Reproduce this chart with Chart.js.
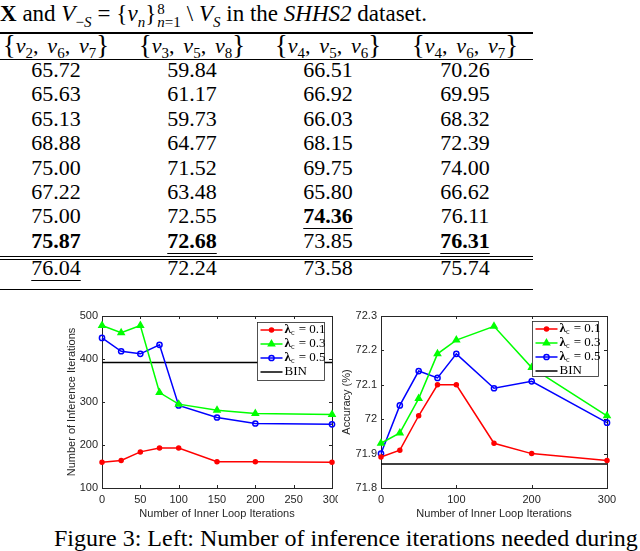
<!DOCTYPE html>
<html>
<head>
<meta charset="utf-8">
<script src="https://cdn.jsdelivr.net/npm/chart.js@4.4.1/dist/chart.umd.min.js"></script>
<style>
  body { margin: 0; width: 640px; height: 551px; overflow: hidden; background: #fff; position: relative;
         font-family: "Liberation Serif", "Times New Roman", serif; color: #000; }
  .t { position: absolute; font-size: 22px; line-height: 22px; white-space: nowrap; }
  .c { transform: translateX(-50%); }
  .u { text-decoration: underline; text-decoration-thickness: 1px; text-underline-offset: 5px; }
  .rule { position: absolute; left: 0; width: 533px; background: #000; }
  sub, sup { font-size: 15px; line-height: 0; }
  .stack { display: inline-block; vertical-align: -6px; font-size: 15px; line-height: 13px; text-align: left; margin-left: 1px; }
  .br { font-size: 27px; vertical-align: -1px; }
  .sp { margin: 0 6px; }
  canvas { position: absolute; }
</style>
</head>
<body>
<div class="t" style="left:0;top:2px;font-size:23px;line-height:23px"><b>X</b> and <i>V</i><sub>−<i>S</i></sub><span class="sp">=</span>{<i>v<sub>n</sub></i>}<span class="stack">8<br><i>n</i>=1</span><span class="sp">\</span><i>V<sub>S</sub></i> in the <i>SHHS2</i> dataset.</div>
<div id="table"></div>
<div class="t" style="left:54px;top:526px;font-size:24px;line-height:24px">Figure 3: Left: Number of inference iterations needed during</div>
<canvas id="left" width="298" height="225" style="left:40px;top:300px"></canvas>
<canvas id="right" width="300" height="225" style="left:340px;top:300px"></canvas>
<script>
// table values (columns of the table, top to bottom)
const colHeads = [[2, 6, 7], [3, 5, 8], [4, 5, 6], [4, 6, 7]];
const col1 = ['65.72', '65.63', '65.13', '68.88', '75.00', '67.22', '75.00', '75.87', '76.04'];
const col2 = ['59.84', '61.17', '59.73', '64.77', '71.52', '63.48', '72.55', '72.68', '72.24'];
const col3 = ['66.51', '66.92', '66.03', '68.15', '69.75', '65.80', '74.36', '73.85', '73.58'];
const col4 = ['70.26', '69.95', '68.32', '72.39', '74.00', '66.62', '76.11', '76.31', '75.74'];
// b = bold, u = underline
const col1Style = ['', '', '', '', '', '', '', 'b', 'u'];
const col2Style = ['', '', '', '', '', '', '', 'bu', ''];
const col3Style = ['', '', '', '', '', '', 'bu', '', ''];
const col4Style = ['', '', '', '', '', '', '', 'bu', ''];

// chart data
const innerIters = [0, 25, 50, 75, 100, 150, 200, 300];
const lambdaLabels = ['0.1', '0.3', '0.5'];
const infIters01 = [160, 164, 184, 193, 193, 161, 161, 160];
const infIters03 = [478, 461, 478, 322, 295, 281, 273, 271];
const infIters05 = [449, 418, 412, 433, 292, 264, 250, 248];
const infItersBin = 392;
const acc01 = [71.89, 71.91, 72.01, 72.10, 72.10, 71.93, 71.90, 71.88];
const acc03 = [71.93, 71.96, 72.06, 72.19, 72.23, 72.27, 72.15, 72.01];
const acc05 = [71.90, 72.04, 72.14, 72.12, 72.19, 72.09, 72.11, 71.99];
const accBin = 71.87;

// ---- table ----
const tbl = document.getElementById('table');
const colX = [56, 192, 328, 465];
const rowBase = [77, 101.4, 125.8, 150.2, 174.6, 199, 223.4, 248, 275];
const cols = [col1, col2, col3, col4];
const styles = [col1Style, col2Style, col3Style, col4Style];

function addText(html, x, base, cls) {
  const d = document.createElement('div');
  d.className = 't c ' + (cls || '');
  d.style.left = x + 'px';
  d.style.top = (base - 18) + 'px';
  d.innerHTML = html;
  tbl.appendChild(d);
}
function addRule(y, h) {
  const d = document.createElement('div');
  d.className = 'rule';
  d.style.top = y + 'px';
  d.style.height = h + 'px';
  tbl.appendChild(d);
}

colHeads.forEach((h, i) => {
  const inner = h.map(n => '<i>v</i><sub>' + n + '</sub>').join(',&thinsp;&thinsp;');
  addText('<span class="br">{</span>' + inner + '<span class="br">}</span>', colX[i], 52);
});
cols.forEach((col, i) => {
  col.forEach((v, r) => {
    const s = styles[i][r];
    let html = v;
    if (s.includes('b')) html = '<b>' + html + '</b>';
    addText(html, colX[i], rowBase[r], s.includes('u') ? 'u' : '');
  });
});
addRule(32.3, 1.4);
addRule(58.5, 1);
addRule(256, 1);
addRule(259, 1);
addRule(288.5, 1.4);

// ---- charts ----
const axisColor = '#262626';

const matlabAxes = {
  id: 'matlabAxes',
  beforeDatasetsDraw(chart) {
    const ctx = chart.ctx;
    const a = chart.chartArea;
    ctx.save();
    ctx.strokeStyle = axisColor;
    ctx.lineWidth = 1;
    ctx.strokeRect(Math.round(a.left) + 0.5, Math.round(a.top) + 0.5,
      Math.round(a.right - a.left), Math.round(a.bottom - a.top));
    const len = 3;
    ctx.beginPath();
    chart.scales.x.ticks.forEach(t => {
      const px = Math.round(chart.scales.x.getPixelForValue(t.value)) + 0.5;
      ctx.moveTo(px, a.bottom); ctx.lineTo(px, a.bottom - len);
      ctx.moveTo(px, a.top); ctx.lineTo(px, a.top + len);
    });
    chart.scales.y.ticks.forEach(t => {
      const py = Math.round(chart.scales.y.getPixelForValue(t.value)) + 0.5;
      ctx.moveTo(a.left, py); ctx.lineTo(a.left + len, py);
      ctx.moveTo(a.right, py); ctx.lineTo(a.right - len, py);
    });
    ctx.stroke();
    ctx.restore();
  }
};

const boxLegend = {
  id: 'boxLegend',
  afterDatasetsDraw(chart, args, opts) {
    const ctx = chart.ctx;
    const a = chart.chartArea;
    const w = opts.width, h = opts.height;
    const bx = Math.round(a.right - opts.right - w) + 0.5;
    const by = Math.round(a.top + opts.top) + 0.5;
    ctx.save();
    ctx.fillStyle = '#fff';
    ctx.fillRect(bx, by, w, h);
    ctx.strokeStyle = axisColor;
    ctx.lineWidth = 0.8;
    ctx.strokeRect(bx, by, w, h);
    chart.data.datasets.forEach((ds, i) => {
      const y = by + 7.5 + i * 14;
      ctx.strokeStyle = ds.borderColor;
      ctx.lineWidth = ds.borderWidth;
      ctx.beginPath();
      ctx.moveTo(bx + 3, y); ctx.lineTo(bx + 25, y);
      ctx.stroke();
      if (ds.pointRadius > 0) {
        ctx.fillStyle = ds.pointBackgroundColor;
        ctx.strokeStyle = ds.pointBorderColor;
        ctx.lineWidth = ds.pointBorderWidth;
        const p = { pointStyle: ds.pointStyle, radius: ds.pointRadius, rotation: 0, borderWidth: ds.pointBorderWidth };
        if (Chart.helpers && Chart.helpers.drawPoint) {
          Chart.helpers.drawPoint(ctx, p, bx + 14, y);
        } else {
          ctx.beginPath(); ctx.arc(bx + 14, y, ds.pointRadius, 0, Math.PI * 2); ctx.fill(); ctx.stroke();
        }
      }
      ctx.fillStyle = '#000';
      ctx.textBaseline = 'middle';
      let x = bx + 27;
      const serif = '"Liberation Serif", "Times New Roman", serif';
      if (ds.label.startsWith('λ_c')) {
        ctx.font = 'bold 13px ' + serif;
        ctx.fillText('λ', x, y); x += ctx.measureText('λ').width;
        ctx.font = '8px ' + serif;
        ctx.fillText('c', x, y + 3); x += ctx.measureText('c').width + 1;
        ctx.font = '13px ' + serif;
        ctx.fillText(ds.label.slice(3), x, y);
      } else {
        ctx.font = '13px ' + serif;
        ctx.fillText(ds.label, x, y);
      }
    });
    ctx.restore();
  }
};

function series(label, ys, color, style, radius, filled) {
  return {
    label: label,
    data: innerIters.map((x, i) => ({ x: x, y: ys[i] })),
    borderColor: color,
    borderWidth: 1.5,
    pointStyle: style,
    pointRadius: radius,
    pointBackgroundColor: filled ? color : 'rgba(0,0,0,0)',
    pointBorderColor: color,
    pointBorderWidth: 1.5,
    tension: 0,
    clip: false
  };
}
function binLine(v) {
  return {
    label: 'BIN',
    data: [{ x: 0, y: v }, { x: 300, y: v }],
    borderColor: '#000',
    borderWidth: 1.5,
    pointRadius: 0,
    pointBorderWidth: 0,
    clip: false
  };
}

function makeChart(id, cfg) {
  const tickFont = { family: '"Liberation Sans", Arial, sans-serif', size: 11 };
  const titleFont = { family: '"Liberation Sans", Arial, sans-serif', size: 11 };
  return new Chart(document.getElementById(id), {
    type: 'line',
    data: {
      datasets: [
        series('λ_c = ' + lambdaLabels[0], cfg.s1, '#ff0000', 'circle', 2, true),
        series('λ_c = ' + lambdaLabels[1], cfg.s2, '#00ff00', 'triangle', 3.5, true),
        series('λ_c = ' + lambdaLabels[2], cfg.s3, '#0000ff', 'circle', 2.6, false),
        binLine(cfg.bin)
      ]
    },
    options: {
      responsive: false,
      animation: false,
      devicePixelRatio: 1,
      layout: { padding: { top: 16, right: cfg.padRight, left: 0, bottom: 0 } },
      plugins: {
        legend: { display: false },
        tooltip: { enabled: false },
        boxLegend: cfg.legend
      },
      scales: {
        x: {
          type: 'linear', min: 0, max: 300,
          ticks: { stepSize: cfg.xStep, font: tickFont, color: axisColor, padding: 5, maxRotation: 0, autoSkip: false },
          grid: { display: false, drawTicks: false },
          border: { display: false },
          title: { display: true, text: 'Number of Inner Loop Iterations', font: titleFont, color: axisColor, padding: { top: 0, bottom: 4 } },
          afterFit: s => { s.height = 37; s.paddingLeft = 0; s.paddingRight = 0; }
        },
        y: {
          min: cfg.yMin, max: cfg.yMax,
          ticks: { stepSize: cfg.yStep, font: tickFont, color: axisColor, padding: 4,
                   callback: v => String(+v.toFixed(1)) },
          grid: { display: false, drawTicks: false },
          border: { display: false },
          title: { display: true, text: cfg.yTitle, font: titleFont, color: axisColor, padding: { top: cfg.yTitlePad, bottom: 0 } },
          afterFit: s => { s.width = cfg.yWidth; s.paddingTop = 0; s.paddingBottom = 0; }
        }
      }
    },
    plugins: [matlabAxes, boxLegend]
  });
}

makeChart('left', {
  s1: infIters01, s2: infIters03, s3: infIters05, bin: infItersBin,
  yMin: 100, yMax: 500, yStep: 100, xStep: 50,
  yTitle: 'Number of Inference Iterations', yTitlePad: 25, yWidth: 62, padRight: 6,
  legend: { width: 67, height: 58, right: 8, top: 6 }
});
makeChart('right', {
  s1: acc01, s2: acc03, s3: acc05, bin: accBin,
  yMin: 71.8, yMax: 72.3, yStep: 0.1, xStep: 100,
  yTitle: 'Accuracy (%)', yTitlePad: 0, yWidth: 41, padRight: 33,
  legend: { width: 66, height: 55, right: 9, top: 5 }
});
</script>
</body>
</html>
